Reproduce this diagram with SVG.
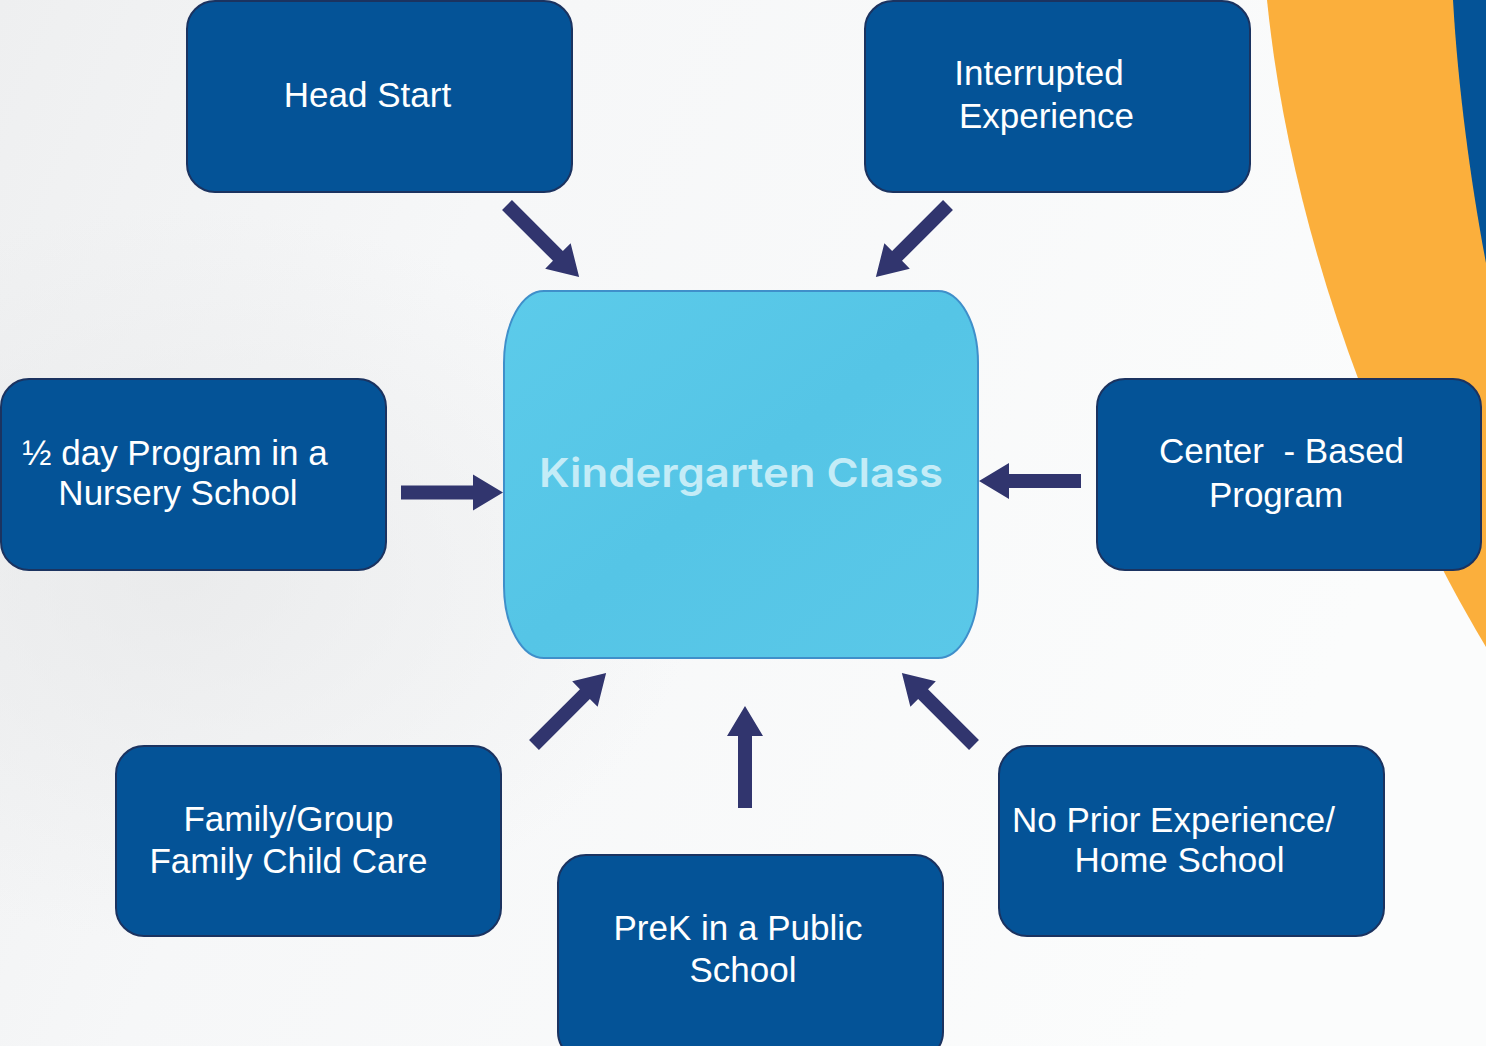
<svg xmlns="http://www.w3.org/2000/svg" width="1486" height="1046" viewBox="0 0 1486 1046">
  <defs>
    <linearGradient id="bg" x1="0" y1="0" x2="1" y2="0.3">
      <stop offset="0" stop-color="#eeeff0"/>
      <stop offset="0.35" stop-color="#f6f7f8"/>
      <stop offset="1" stop-color="#fbfcfc"/>
    </linearGradient>
    <radialGradient id="haze" cx="0.12" cy="0.55" r="0.35">
      <stop offset="0" stop-color="#e6e7e8" stop-opacity="0.7"/>
      <stop offset="1" stop-color="#e6e7e8" stop-opacity="0"/>
    </radialGradient>
    <linearGradient id="hubFill" x1="0" y1="0" x2="1" y2="1">
      <stop offset="0" stop-color="#5ccbea"/>
      <stop offset="0.5" stop-color="#55c5e6"/>
      <stop offset="1" stop-color="#5ac8e8"/>
    </linearGradient>
    <!-- block arrow pointing right, tail at origin, length 102 -->
    <path id="arrow" d="M0,-7 L72,-7 L72,-18 L102,0 L72,18 L72,7 L0,7 Z"/>
    <style>
      .box { fill: #045397; stroke: #1b3360; stroke-width: 2; }
      .lbl { font-family: "Liberation Sans", Arial, sans-serif; font-size: 35px; fill: #ffffff; text-anchor: middle; }
      .arr { fill: #31356e; }
    </style>
  </defs>

  <!-- background -->
  <rect x="0" y="0" width="1486" height="1046" fill="url(#bg)"/>
  <rect x="0" y="0" width="1486" height="1046" fill="url(#haze)"/>

  <!-- decorative sweep, top right -->
  <path d="M1267,0 C1290,230 1380,470 1486,647 L1486,0 Z" fill="#fbaf3c"/>
  <path d="M1453,0 C1458,90 1472,190 1486,263 L1486,0 Z" fill="#045397"/>

  <!-- connectors -->
  <g id="connectors" class="arr">
    <use href="#arrow" transform="translate(507,205) rotate(45)"/>
    <use href="#arrow" transform="translate(948,205) rotate(135)"/>
    <use href="#arrow" transform="translate(401,492.5)"/>
    <use href="#arrow" transform="translate(1081,481) rotate(180)"/>
    <use href="#arrow" transform="translate(534,745) rotate(-45)"/>
    <use href="#arrow" transform="translate(745,808) rotate(-90)"/>
    <use href="#arrow" transform="translate(974,745) rotate(-135)"/>
  </g>

  <!-- central node -->
  <g id="kindergarten">
    <rect x="504" y="291" width="474" height="367" rx="40" ry="72" fill="url(#hubFill)" stroke="#3f8fca" stroke-width="2"/>
    <text x="741" y="487" font-family="Inter, 'Open Sans', sans-serif" font-weight="600" font-size="40" fill="#c4ecf7" text-anchor="middle" textLength="404" lengthAdjust="spacingAndGlyphs">Kindergarten Class</text>
  </g>

  <g id="head-start">
    <rect class="box" x="187" y="1" width="385" height="191" rx="28"/>
    <text class="lbl" x="367.5" y="107">Head Start</text>
  </g>

  <g id="interrupted">
    <rect class="box" x="865" y="1" width="385" height="191" rx="28"/>
    <text class="lbl" x="1039" y="85">Interrupted</text>
    <text class="lbl" x="1046.5" y="128">Experience</text>
  </g>

  <g id="half-day">
    <rect class="box" x="1" y="379" width="385" height="191" rx="28"/>
    <text class="lbl" x="175" y="465">½ day Program in a</text>
    <text class="lbl" x="178" y="505">Nursery School</text>
  </g>

  <g id="center-based">
    <rect class="box" x="1097" y="379" width="384" height="191" rx="28"/>
    <text class="lbl" x="1281.5" y="463" style="white-space:pre">Center  - Based</text>
    <text class="lbl" x="1276" y="507">Program</text>
  </g>

  <g id="family">
    <rect class="box" x="116" y="746" width="385" height="190" rx="28"/>
    <text class="lbl" x="288.5" y="831">Family/Group</text>
    <text class="lbl" x="288.5" y="873">Family Child Care</text>
  </g>

  <g id="prek">
    <rect class="box" x="558" y="855" width="385" height="205" rx="28"/>
    <text class="lbl" x="738" y="940">PreK in a Public</text>
    <text class="lbl" x="743" y="982">School</text>
  </g>

  <g id="no-prior">
    <rect class="box" x="999" y="746" width="385" height="190" rx="28"/>
    <text class="lbl" x="1173.5" y="832">No Prior Experience/</text>
    <text class="lbl" x="1179.5" y="872">Home School</text>
  </g>
</svg>
